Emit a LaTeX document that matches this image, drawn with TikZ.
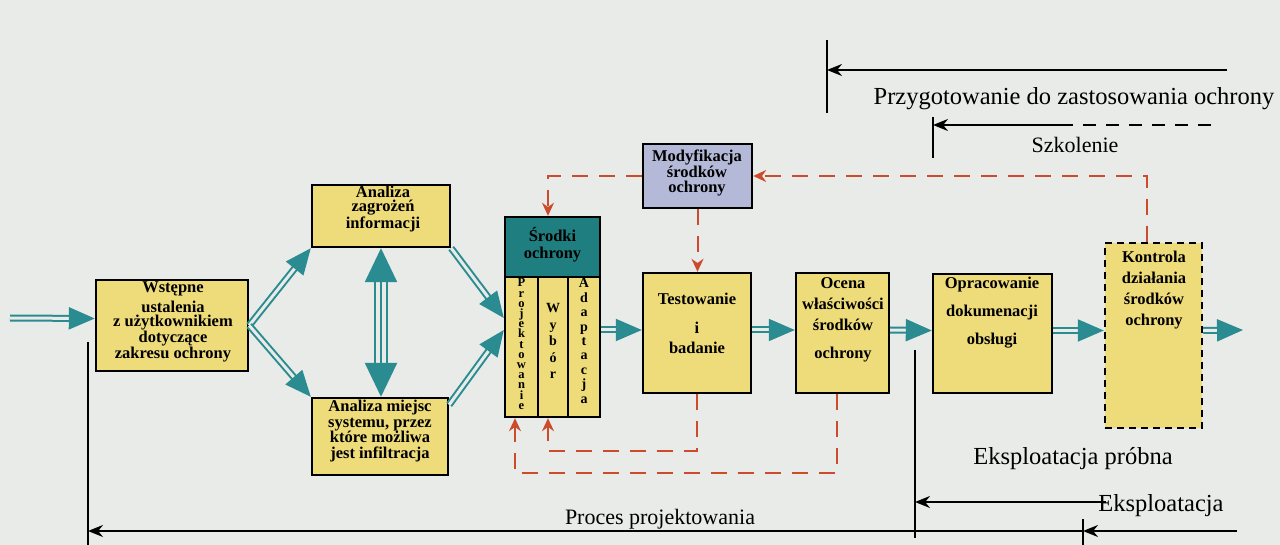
\documentclass[tikz,border=0pt]{standalone}
\usepackage{fontspec}
\setmainfont{Liberation Serif}
\usetikzlibrary{arrows.meta,calc}
\definecolor{paper}{HTML}{E8EBE8}
\definecolor{boxyellow}{HTML}{EEDB7A}
\definecolor{headteal}{HTML}{1F7E80}
\definecolor{arrowteal}{HTML}{2A8B90}
\definecolor{modblue}{HTML}{B3B9D6}
\definecolor{flowred}{HTML}{CC4B2D}
\begin{document}
\begin{tikzpicture}[x=1pt,y=-1pt,
  box/.style={draw=black, line width=2.4pt, fill=boxyellow, inner sep=0pt},
  lbl/.style={font=\fontsize{16.5}{15}\selectfont\bfseries, align=center, inner sep=0pt},
  vlbl/.style={align=center, inner sep=0pt},
  tarrow/.style={draw=arrowteal, line width=2pt, double=paper, double distance=3pt,
    -{Triangle[length=26pt,width=22pt]}},
  ttriple/.style={draw=arrowteal, line width=2.5pt, double=paper, double distance=9.5pt,
    {Triangle[length=34pt,width=32pt]}-{Triangle[length=34pt,width=32pt]}},
  rdash/.style={draw=flowred, line width=2pt, dash pattern=on 16pt off 11pt,
    -{Stealth[length=13pt,width=12pt]}},
  tick/.style={draw=black, line width=1.8pt},
  tline/.style={draw=black, line width=1.8pt, -{Stealth[length=15pt,width=12pt]}},
  tlabel/.style={inner sep=0pt},
]
\useasboundingbox (0,0) rectangle (1280,545);
\fill[paper] (0,0) rectangle (1280,545);

% --- boxes of the design process ---
\node[box, minimum width=152, minimum height=91] (wst) at (172,325.5) {};
\node[lbl, font=\fontsize{16.5}{14.5}\selectfont\bfseries] (wst-t) at (173,322)
  {Wstępne\\[4pt]ustalenia\\z użytkownikiem\\dotyczące\\zakresu ochrony};

\node[box, minimum width=138, minimum height=62] (zag) at (381,216) {};
\node[lbl, font=\fontsize{16.5}{14}\selectfont\bfseries] (zag-t) at (383,209)
  {Analiza\\zagrożeń\\informacji};

\node[box, minimum width=136, minimum height=77] (mie) at (380,436.5) {};
\node[lbl, font=\fontsize{16.5}{15.5}\selectfont\bfseries] (mie-t) at (380,431)
  {Analiza miejsc\\systemu, przez\\które możliwa\\jest infiltracja};

\node[box, fill=headteal, minimum width=95, minimum height=60] (srod) at (552.5,247) {};
\node[lbl, font=\fontsize{16.5}{17}\selectfont\bfseries] (srod-t) at (552.5,245)
  {Środki\\ochrony};

\node[box, minimum width=33, minimum height=140] (proj) at (521.5,347) {};
\node[box, minimum width=30, minimum height=140] (wyb) at (553,347) {};
\node[box, minimum width=32, minimum height=140] (adap) at (584,347) {};
\node[vlbl, font=\fontsize{12.5}{10.2}\selectfont\bfseries] (proj-t) at (521.5,344)
  {P\\r\\o\\j\\e\\k\\t\\o\\w\\a\\n\\i\\e};
\node[vlbl, font=\fontsize{14}{16.5}\selectfont\bfseries] (wyb-t) at (553,341)
  {W\\y\\b\\ó\\r};
\node[vlbl, font=\fontsize{14}{14.4}\selectfont\bfseries] (adap-t) at (584,341)
  {A\\d\\a\\p\\t\\a\\c\\j\\a};

\node[box, fill=modblue, minimum width=109, minimum height=64] (mod) at (697.5,176) {};
\node[lbl, font=\fontsize{16.5}{15.5}\selectfont\bfseries] (mod-t) at (697,173)
  {Modyfikacja\\środków\\ochrony};

\node[box, minimum width=108, minimum height=120] (test) at (697,333) {};
\node[lbl, font=\fontsize{16.5}{17}\selectfont\bfseries] (test-t) at (697,323)
  {Testowanie\\[12pt]i\\[3pt]badanie};

\node[box, minimum width=93, minimum height=120] (ocena) at (842.5,333) {};
\node[lbl, font=\fontsize{16.5}{21}\selectfont\bfseries] (ocena-t) at (843,320)
  {Ocena\\właściwości\\środków\\[7pt]ochrony};

\node[box, minimum width=119, minimum height=119] (oprac) at (992.5,333.5) {};
\node[lbl, font=\fontsize{16.5}{28}\selectfont\bfseries] (oprac-t) at (992,313)
  {Opracowanie\\dokumenacji\\obsługi};

\node[box, dash pattern=on 7pt off 5pt, minimum width=97, minimum height=185] (kontr) at (1153.5,335.5) {};
\node[lbl, font=\fontsize{16.5}{21}\selectfont\bfseries] (kontr-t) at (1154,290)
  {Kontrola\\działania\\środków\\ochrony};

% --- main flow (teal arrows) ---
\coordinate (in) at (10,318);
\coordinate (out) at (1243,330);
\draw[tarrow] (in) -- ([yshift=7pt]wst.west);
\draw[tarrow] (wst.east) -- (zag.south west);
\draw[tarrow] (wst.east) -- (mie.north west);
\draw[ttriple] (zag.south) -- (zag.south |- mie.north);
\draw[draw=arrowteal, line width=2.5pt, shorten <=30pt, shorten >=30pt] (zag.south) -- (zag.south |- mie.north);
\draw[tarrow] (zag.south east) -- ([yshift=29pt]proj.west);
\draw[tarrow] ([yshift=-8pt]mie.north east) -- ([yshift=17pt]proj.west);
\draw[tarrow] ([yshift=3pt]test.west -| adap.east) -- ([yshift=3pt]test.west);
\draw[tarrow] ([yshift=3pt]test.east) -- ([yshift=3pt]ocena.west);
\draw[tarrow] ([yshift=3pt]ocena.east) -- ([yshift=3pt]oprac.west);
\draw[tarrow] ([yshift=3pt]oprac.east) -- ([yshift=3pt]oprac.east -| kontr.west);
\draw[tarrow] ([yshift=3pt]oprac.east -| kontr.east) -- (out);

% --- feedback loops (red dashed) ---
\draw[rdash] ([xshift=-6.5pt]kontr.north) |- (mod.east);
\draw[rdash] (mod.west) -| ([xshift=-4.5pt]srod.north);
\draw[rdash] (mod.south) -- (mod.south |- test.north);
\draw[rdash] (test.south) -- ++(0,57) -| ([xshift=-5pt]wyb.south);
\draw[rdash] ([xshift=-5.5pt]ocena.south) -- ++(0,79) -| ([xshift=-6.5pt]proj.south);

% --- phases (black time lines) ---
\coordinate (pA) at (827,40);
\coordinate (pB) at (827,113);
\coordinate (pR) at (1227,70);
\draw[tick] (pA) -- (pB);
\draw[tline] (pR) -- (pR -| pA);
\node[tlabel, font=\fontsize{24.5}{26}\selectfont] (pT) at (1074,99) {Przygotowanie do zastosowania ochrony};

\coordinate (sA) at (933,117);
\coordinate (sB) at (933,158);
\coordinate (sM) at (1060,125);
\coordinate (sR) at (1218,125);
\draw[tick] (sA) -- (sB);
\draw[tline] (sM) -- (sM -| sA);
\draw[draw=black, line width=1.3pt, dash pattern=on 13pt off 10pt] (sM) -- (sR);
\node[tlabel, font=\fontsize{22}{24}\selectfont] (sT) at (1075,145) {Szkolenie};

\coordinate (eA) at (915,350);
\coordinate (eB) at (915,538);
\coordinate (eR) at (1106,502);
\draw[tick] (eA) -- (eB);
\draw[tline] (eR) -- (eR -| eA);
\node[tlabel, font=\fontsize{24.5}{26}\selectfont] (eT) at (1073,459) {Eksploatacja próbna};

\coordinate (xA) at (1083,519);
\coordinate (xB) at (1083,545);
\coordinate (xR) at (1237,531);
\draw[tick] (xA) -- (xB);
\draw[tline] (xR) -- (xR -| xA);
\node[tlabel, font=\fontsize{24.5}{26}\selectfont] (xT) at (1161,506) {Eksploatacja};

\coordinate (gA) at (88,342);
\coordinate (gB) at (88,545);
\draw[tick] (gA) -- (gB);
\draw[tline] (xR -| xA) -- (xR -| gA);
\node[tlabel, font=\fontsize{22}{24}\selectfont] (gT) at (660,519) {Proces projektowania};
\end{tikzpicture}
\end{document}
